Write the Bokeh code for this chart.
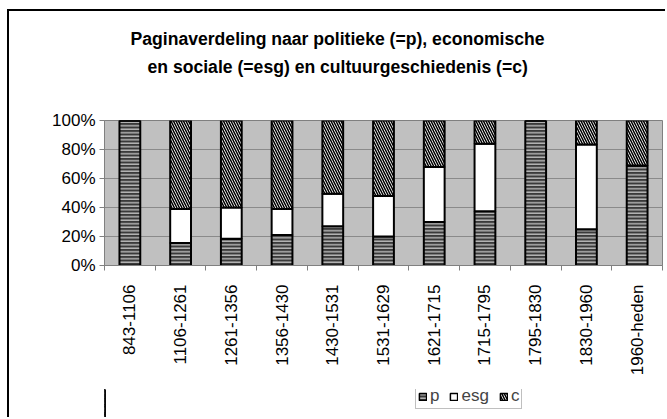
import math
from bokeh.plotting import figure
from bokeh.layouts import column
from bokeh.models import (FixedTicker, NumeralTickFormatter, Legend, Title,
                          LegendItem, Range1d, ColumnDataSource)
from bokeh.transform import stack
from bokeh.embed import file_html
from bokeh.resources import INLINE

periods = ["843-1106", "1106-1261", "1261-1356", "1356-1430", "1430-1531",
           "1531-1629", "1621-1715", "1715-1795", "1795-1830", "1830-1960",
           "1960-heden"]
p_vals = [100, 15.5, 18.5, 21, 27, 20, 30, 37.5, 100, 25, 69]
esg_vals = [0, 23.5, 21.5, 18, 22.5, 28, 38, 46.5, 0, 58.5, 0]
c_vals = [0, 61, 60, 61, 50.5, 52, 32, 16, 0, 16.5, 31]
series = ["p", "esg", "c"]
title_lines = ["Paginaverdeling naar politieke (=p), economische",
               "en sociale (=esg) en cultuurgeschiedenis (=c)"]
y_ticks = [0, 0.2, 0.4, 0.6, 0.8, 1.0]

xs = [i + 0.5 for i in range(len(periods))]
src = ColumnDataSource(dict(x=xs, p=[v / 100 for v in p_vals],
                            esg=[v / 100 for v in esg_vals],
                            c=[v / 100 for v in c_vals]))

FONT = "Liberation Sans"

p = figure(width=658, height=380, x_range=Range1d(0, len(periods)),
           y_range=Range1d(0, 1), output_backend="svg", toolbar_location=None,
           min_border_left=95, min_border_right=5, min_border_top=109,
           min_border_bottom=126, margin=(9, 0, 0, 7))
p.styles = {"border-left": "2px solid black", "border-top": "2px solid black"}

p.background_fill_color = "#c0c0c0"
p.border_fill_color = "white"
p.outline_line_color = "#808080"

styles = [
    dict(fill_color="#3a3a3a", hatch_pattern="-", hatch_color="#bcbcbc",
         hatch_scale=3.5, hatch_weight=1.4),
    dict(fill_color="white"),
    dict(fill_color="white", hatch_pattern="\\", hatch_color="black",
         hatch_scale=5, hatch_weight=1.5),
]
for i, (name, st) in enumerate(zip(series, styles)):
    p.vbar(x="x", width=0.41, bottom=stack(*series[:i]),
           top=stack(*series[:i + 1]), source=src,
           line_color="black", line_width=2, **st)

p.xgrid.grid_line_color = None
p.ygrid.grid_line_color = "#8a8a8a"
p.ygrid.ticker = FixedTicker(ticks=y_ticks)

xa = p.xaxis[0]
xa.ticker = FixedTicker(ticks=xs, minor_ticks=list(range(len(periods) + 1)))
xa.major_label_overrides = {x: lab for x, lab in zip(xs, periods)}
xa.major_label_orientation = math.pi / 2
xa.major_tick_line_color = None
xa.major_tick_out = 0
xa.major_tick_in = 0
xa.minor_tick_out = 5
xa.minor_tick_in = 0
xa.minor_tick_line_color = "#808080"
xa.axis_line_color = "#808080"
xa.major_label_standoff = 14
xa.major_label_text_font = FONT
xa.major_label_text_font_size = "17px"
xa.major_label_text_color = "black"

ya = p.yaxis[0]
ya.ticker = FixedTicker(ticks=y_ticks, minor_ticks=[])
ya.formatter = NumeralTickFormatter(format="0%")
ya.major_tick_out = 5
ya.major_tick_in = 0
ya.major_tick_line_color = "#808080"
ya.minor_tick_line_color = None
ya.axis_line_color = "#808080"
ya.major_label_standoff = 4
ya.major_label_text_font = FONT
ya.major_label_text_font_size = "17px"
ya.major_label_text_color = "black"

# title block: spacer next to the frame, then line 2, then line 1
p.add_layout(Title(text=" ", standoff=38, text_font_size="1px"), "above")
for txt, off in zip(reversed(title_lines), [43, 26]):
    p.add_layout(Title(text=txt, align="left", offset=off, standoff=6,
                       text_font=FONT, text_font_size="17.6px",
                       text_font_style="bold", text_color="black"), "above")

# legend strip below the chart (same data, bars kept out of its view)
lf = figure(width=658, height=28, x_range=Range1d(100, 101),
            y_range=Range1d(0, 1), x_axis_type=None, y_axis_type=None,
            output_backend="svg", toolbar_location=None, min_border=0,
            margin=(0, 0, 0, 7))
lf.styles = {"border-left": "2px solid black"}
lf.outline_line_color = None
lf.background_fill_color = "white"
lf.border_fill_color = "white"
lf.grid.grid_line_color = None
items = []
for i, (name, st) in enumerate(zip(series, styles)):
    r = lf.vbar(x="x", width=0.41, bottom=stack(*series[:i]),
                top=stack(*series[:i + 1]), source=src,
                line_color="black", line_width=1.5, **st)
    items.append(LegendItem(label=name, renderers=[r]))
legend = Legend(items=items, orientation="horizontal", location=(311, 8),
                glyph_width=9, glyph_height=9, label_text_font=FONT,
                label_text_font_size="17px", label_standoff=3, spacing=10,
                padding=2, margin=0, border_line_color="#808080",
                label_height=12, label_width=8,
                background_fill_color="white", background_fill_alpha=1)
lf.add_layout(legend, "center")

layout = column(p, lf, spacing=0)
open("out.html", "w").write(file_html(layout, INLINE))
